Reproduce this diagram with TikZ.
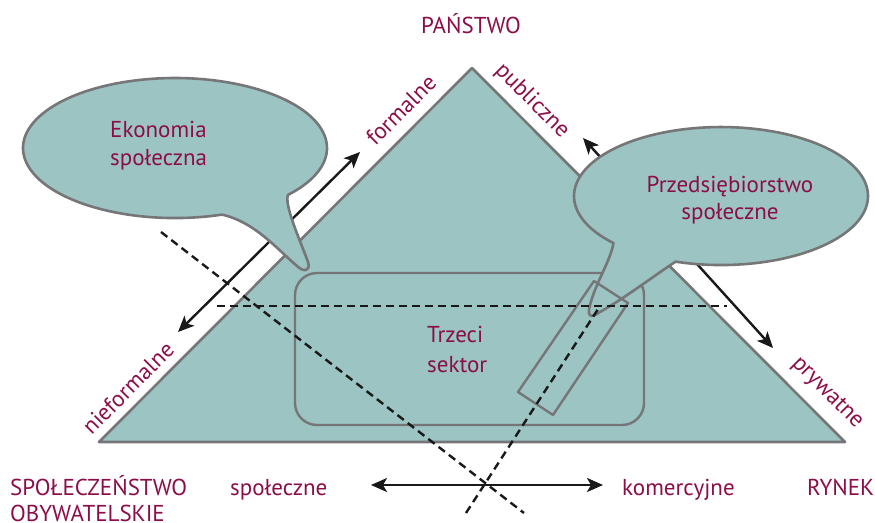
\documentclass[tikz,border=0pt]{standalone}
\usepackage{fontspec}
\setmainfont{PT Sans}
\usetikzlibrary{arrows.meta}
\definecolor{tealfill}{RGB}{155,196,195}
\definecolor{edgegray}{RGB}{118,118,120}
\definecolor{wine}{RGB}{140,14,72}
\begin{document}
\begin{tikzpicture}[x=1pt,y=-1pt,
  filled/.style={fill=tealfill,draw=edgegray,line width=2.6pt,line join=round},
  outline/.style={draw=edgegray,line width=2.4pt,line join=round},
  arr/.style={line width=2.4pt,black!90,
    {Stealth[length=16pt,width=14pt,inset=4pt]}-{Stealth[length=16pt,width=14pt,inset=4pt]}},
  dsh/.style={line width=2.4pt,black!90,dash pattern=on 8pt off 5pt},
  lbl/.style={text=wine,font=\fontsize{23}{28}\selectfont,inner sep=0pt},
]
\useasboundingbox (0,0) rectangle (875,522);

% triangle
\coordinate (apex) at (472,68);
\coordinate (bl) at (99,442);
\coordinate (br) at (845,442);
\draw[filled] (bl) -- (apex) -- (br) -- cycle;

% arrows
\coordinate (la1) at (178,332);
\coordinate (la2) at (360,152);
\coordinate (ra1) at (583,138);
\coordinate (ra2) at (773,348);
\coordinate (ba1) at (371,485);
\coordinate (ba2) at (603,485);
\draw[arr] (la1) -- (la2);
\draw[arr] (ra1) -- (ra2);
\draw[arr] (ba1) -- (ba2);

% third sector box
\draw[outline,rounded corners=22pt] (295,273) rectangle (644,425);

% bubble 1
\draw[filled] (222,214.6) arc[start angle=72,end angle=402,x radius=152,y radius=70]
  .. controls (284,205) and (300,240) .. (308,262)
  .. controls (311,272) and (303,272) .. (297,266)
  .. controls (278,250) and (255,222) .. (222,214.6) -- cycle;

% bubble 2
\draw[filled] (613.5,243.1) arc[start angle=137,end angle=468,x radius=147,y radius=69]
  .. controls (655,275) and (625,298) .. (600,312)
  .. controls (590,319) and (587,316) .. (590,305)
  .. controls (596,282) and (610,262) .. (613.5,243.1) -- cycle;

% small rotated rectangle
\coordinate (s1) at (594,281);
\coordinate (s2) at (628,303);
\coordinate (s3) at (553,415);
\coordinate (s4) at (518,392);
\draw[outline] (s1) -- (s2) -- (s3) -- (s4) -- cycle;

% dashed lines
\coordinate (h1) at (217,306);
\coordinate (h2) at (727,306);
\coordinate (d1a) at (161,232);
\coordinate (d1b) at (524,513);
\coordinate (d2a) at (466,513);
\coordinate (d2b) at (600,306);
\draw[dsh] (h1) -- (h2);
\draw[dsh] (d1a) -- (d1b);
\draw[dsh] (d2a) -- (d2b);

% labels
\node[lbl,anchor=base] (panstwo) at (471,33) {PAŃSTWO};
\node[lbl,anchor=base west] (eko1) at (110,137) {Ekonomia};
\node[lbl,anchor=base west] (eko2) at (110,165) {społeczna};
\node[lbl,anchor=base] (prz1) at (730,192) {Przedsiębiorstwo};
\node[lbl,anchor=base] (prz2) at (730,219) {społeczne};
\node[lbl,anchor=base west] (trz1) at (427,342) {Trzeci};
\node[lbl,anchor=base west] (trz2) at (427,372) {sektor};
\node[lbl,rotate=45] (formalne) at (401,110) {formalne};
\node[lbl,rotate=-45] (publiczne) at (532,101) {publiczne};
\node[lbl,rotate=45] (nieformalne) at (128,388) {nieformalne};
\node[lbl,rotate=-45] (prywatne) at (827,393) {prywatne};
\node[lbl,anchor=base west] (spol1) at (10,495) {SPOŁECZEŃSTWO};
\node[lbl,anchor=base west] (spol2) at (10,521) {OBYWATELSKIE};
\node[lbl,anchor=base west] (spoleczne) at (230,495) {społeczne};
\node[lbl,anchor=base west] (komercyjne) at (622,495) {komercyjne};
\node[lbl,anchor=base west] (rynek) at (807,495) {RYNEK};
\end{tikzpicture}
\end{document}
